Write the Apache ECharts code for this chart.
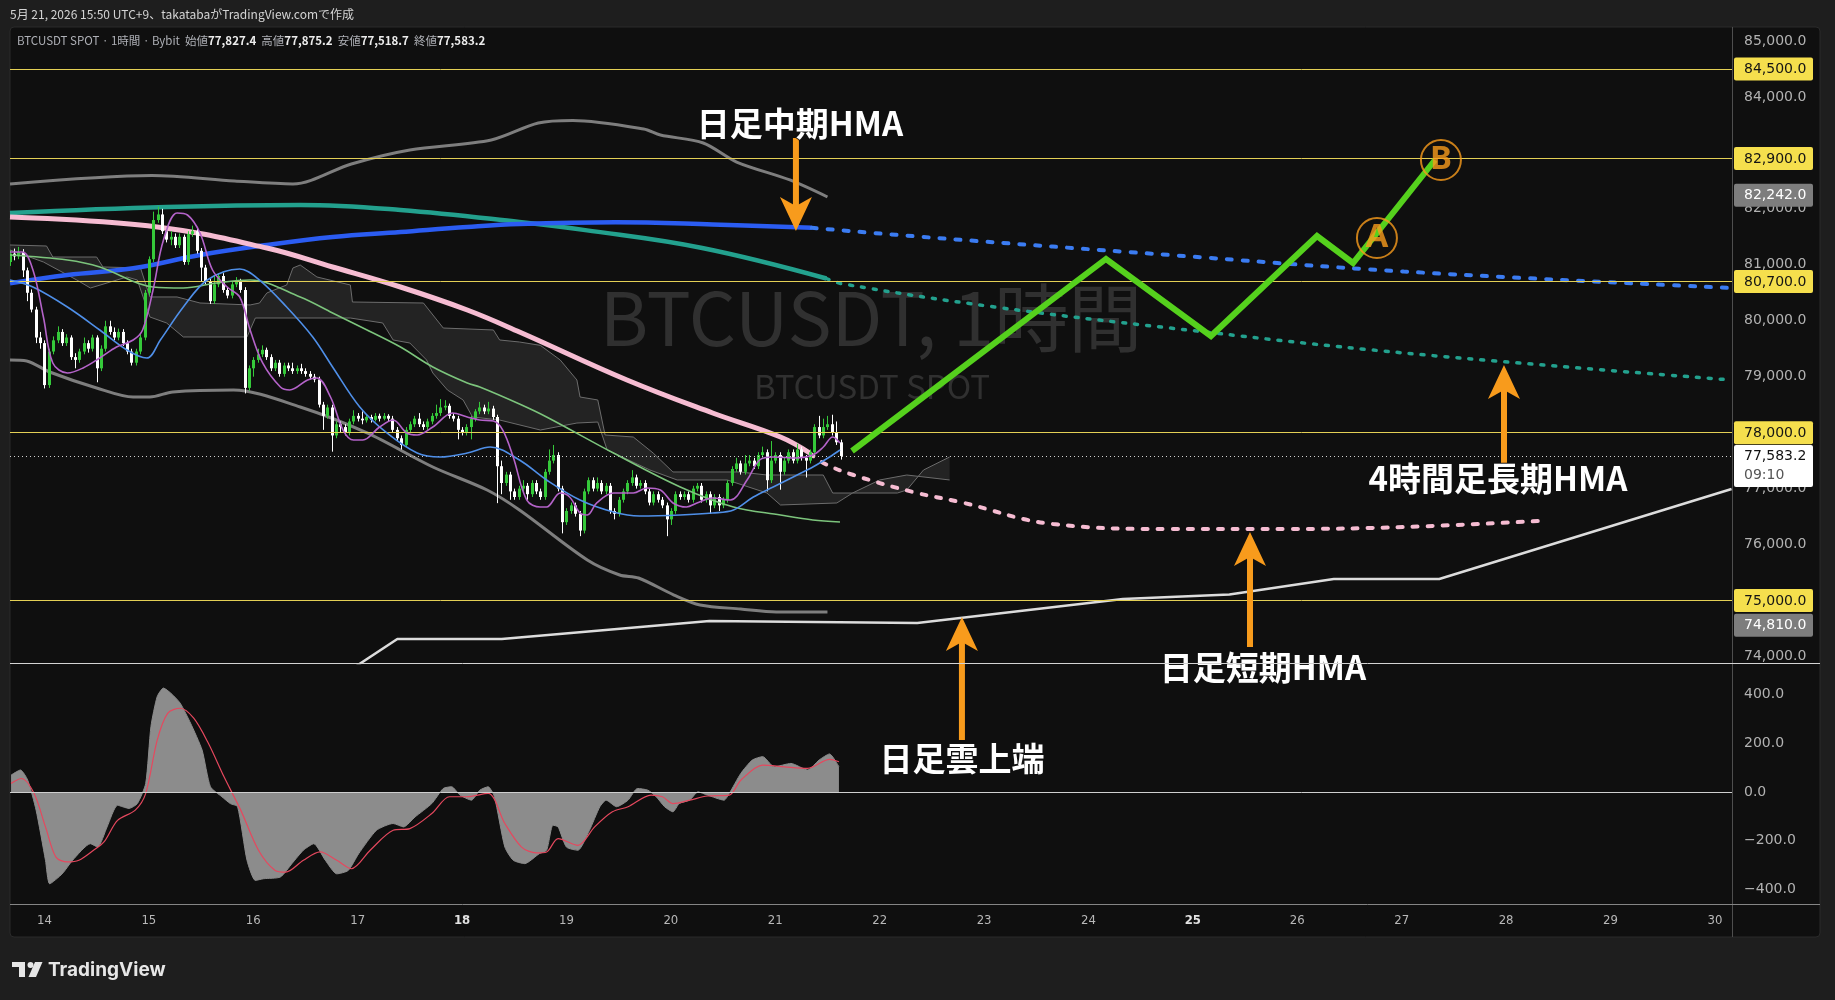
<!DOCTYPE html>
<html><head><meta charset="utf-8">
<style>html,body{margin:0;padding:0;background:#1e1e1e;overflow:hidden}#c{width:1835px;height:1000px}</style>
<script src="https://cdn.jsdelivr.net/npm/echarts@6/dist/echarts.min.js"></script>
</head><body><div id="c"></div>
<script>
// ================= DATA =================
const dayTicks = [14,15,16,17,18,19,20,21,22,23,24,25,26,27,28,29,30];
const boldDays = [18,25];
const priceTicks = [74000,75000,76000,77000,78000,79000,80000,81000,82000,83000,84000,85000];
const oscTicks = [-400,-200,0,200,400];
const candleStart = 13 + 16/24; // first hourly candle: 13th 16:00
// [open, close, low, high] hourly
const candles = [
[81050,81200,80980,81260],[81200,81150,81080,81290],[81150,81230,81100,81320],[81230,80900,80780,81280],[80900,80500,80350,80950],
[80500,80200,80150,80560],[80200,79700,79600,80250],[79700,79600,79500,79800],[79600,78850,78790,79650],[78850,79450,78800,79500],
[79450,79650,79400,79720],[79650,79800,79600,79900],[79800,79600,79550,79850],[79600,79700,79550,79760],[79700,79350,79300,79740],
[79350,79300,79150,79420],[79300,79450,79250,79500],[79450,79600,79400,79700],[79600,79500,79430,79650],[79500,79700,79450,79750],
[79700,79150,78900,79740],[79150,79500,79100,79560],[79500,79900,79450,80000],[79900,79800,79750,80000],[79800,79700,79650,79880],
[79700,79800,79650,79860],[79800,79600,79550,79850],[79600,79450,79400,79650],[79450,79250,79200,79500],[79250,79450,79200,79500],
[79450,79700,79400,79760],[79700,80500,79650,80550],[80500,81100,80450,81150],[81100,81800,81050,81950],[81800,81900,81750,82040],
[81900,81600,81550,82000],[81600,81450,81400,81650],[81450,81500,81350,81600],[81500,81350,81300,81560],[81350,81500,81300,81560],
[81500,81050,81000,81540],[81050,81550,81000,81600],[81550,81600,81500,81700],[81600,81250,81200,81650],[81250,80950,80700,81300],
[80950,80700,80650,81000],[80700,80350,80300,80750],[80350,80650,80300,80800],[80650,80800,80600,80850],[80800,80550,80500,80850],
[80550,80450,80400,80600],[80450,80650,80400,80700],[80650,80700,80600,80780],[80700,80550,80500,80750],[80550,78800,78700,80600],
[78800,79150,78750,79200],[79150,79300,79000,79350],[79300,79400,79250,79500],[79400,79480,79350,79560],[79480,79350,79300,79520],
[79350,79150,79100,79400],[79150,79250,79100,79300],[79250,79050,79000,79300],[79050,79200,79000,79250],[79200,79150,79100,79250],
[79150,79100,79050,79250],[79100,79150,79050,79200],[79150,79100,79050,79230],[79100,79050,79000,79150],[79050,79000,78950,79100],
[79000,78950,78900,79050],[78950,78500,78450,79000],[78500,78300,78050,78550],[78300,78450,78250,78500],[78450,77950,77660,78500],
[77950,78150,77900,78200],[78150,78100,78000,78200],[78100,78000,77950,78150],[78000,78200,77950,78250],[78200,78300,78150,78400],
[78300,78250,78200,78350],[78250,78220,78150,78380],[78220,78280,78180,78330],[78280,78230,78180,78320],[78230,78300,78200,78350],
[78300,78250,78200,78340],[78250,78300,78220,78350],[78300,78250,78200,78330],[78250,78050,78000,78300],[78050,77900,77850,78100],
[77900,77780,77700,77950],[77780,78050,77750,78100],[78050,78150,78000,78200],[78150,78250,78100,78300],[78250,78150,78100,78350],
[78150,78100,78050,78200],[78100,78200,78050,78250],[78200,78300,78150,78350],[78300,78350,78250,78500],[78350,78450,78300,78600],
[78450,78480,78400,78580],[78480,78300,78250,78520],[78300,78250,78200,78350],[78250,78050,77880,78300],[78050,78000,77950,78100],
[78000,78100,77950,78150],[78100,78250,77880,78300],[78250,78380,78200,78420],[78380,78450,78330,78550],[78450,78380,78330,78500],
[78380,78430,78330,78550],[78430,78280,78230,78480],[78280,77400,76740,78320],[77400,77100,76900,77500],[77100,77250,77050,77300],
[77250,76950,76800,77300],[76950,76850,76800,77000],[76850,77000,76800,77050],[77000,77050,76950,77150],[77050,76900,76800,77100],
[76900,77100,76850,77150],[77100,76950,76900,77150],[76950,76850,76800,77000],[76850,77300,76800,77350],[77300,77500,77250,77700],
[77500,77600,77450,77780],[77600,77000,76950,77650],[77000,76400,76200,77050],[76400,76600,76350,76650],[76600,76700,76550,76750],
[76700,76550,76500,76750],[76550,76250,76150,76600],[76250,76950,76200,77000],[76950,77150,76900,77200],[77150,77000,76950,77200],
[77000,77100,76950,77200],[77100,76950,76900,77150],[76950,77050,76900,77100],[77050,76600,76550,77100],[76600,76550,76450,76650],
[76550,76800,76500,76850],[76800,76950,76750,77000],[76950,77100,76900,77150],[77100,77200,77050,77330],[77200,77050,77000,77250],
[77050,77100,77000,77150],[77100,76950,76900,77150],[76950,76750,76700,77000],[76750,76900,76700,76950],[76900,76800,76750,76950],
[76800,76700,76650,76850],[76700,76450,76150,76750],[76450,76600,76350,76650],[76600,76900,76550,76950],[76900,76850,76800,76950],
[76850,76900,76800,76950],[76900,76800,76750,76950],[76800,77000,76750,77050],[77000,77050,76950,77100],[77050,76800,76750,77100],
[76800,76900,76750,76950],[76900,76700,76550,76950],[76700,76850,76650,76900],[76850,76700,76600,76900],[76700,76800,76650,76850],
[76800,77100,76750,77150],[77100,77350,77050,77400],[77350,77450,77300,77550],[77450,77300,77250,77500],[77300,77450,77250,77600],
[77450,77500,77400,77600],[77500,77400,77350,77550],[77400,77600,77350,77650],[77600,77650,77550,77750],[77650,77150,76950,77700],
[77150,77500,77100,77850],[77500,77600,77450,77650],[77600,77300,76980,77650],[77300,77500,77250,77550],[77500,77650,77450,77700],
[77650,77500,77450,77700],[77500,77700,77450,77800],[77700,77550,77500,77750],[77550,77500,77200,77600],[77500,77650,77450,77700],
[77650,78100,77600,78150],[78100,77950,77900,78300],[77950,78100,77900,78250],[78100,78150,78050,78300],[78150,78000,77950,78320],
[78000,77827.4,77780,78200],[77827.4,77583.2,77518.7,77875.2]
];
// [day, price]
const pinkHMA = [[13.67,81854],[15.08,81676],[16.13,81300],[16.76,80961],[17.41,80603],[18.05,80192],[18.55,79799],[19.58,78941],[20.40,78351],[21.05,77922],[21.33,77636]];
const pinkHMAProj = [[21.33,77636],[21.46,77458],[21.75,77243],[22.32,76939],[22.77,76760],[23.66,76367],[24.78,76278],[25.90,76278],[27.02,76314],[28.32,76421]];
const blueHMA = [[13.67,80669],[14.22,80818],[14.85,80937],[15.49,81175],[16.13,81354],[16.76,81497],[17.41,81586],[18.05,81676],[18.55,81729],[19.47,81760],[20.40,81720],[21.35,81660]];
const blueHMAProj = [[21.35,81660],[22.54,81480],[24.78,81175],[27.02,80880],[30.16,80585]];
const tealHMA = [[13.67,81926],[15.17,82033],[16.45,82069],[17.41,81979],[18.55,81765],[19.18,81620],[20.30,81300],[21.49,80755]];
const tealHMAProj = [[21.49,80755],[21.65,80657],[23.10,80246],[24.78,79870],[27.02,79424],[30.16,78941]];
const bbUpper = [[13.67,82444],[15.03,82596],[15.82,82498],[16.38,82444],[16.94,82802],[17.50,83052],[18.28,83231],[18.73,83534],[19.06,83579],[19.74,83427],[19.90,83320],[20.31,83177],[20.63,82837],[21.14,82516],[21.50,82212]];
const bbLower = [[13.67,79298],[13.83,79281],[14.05,79084],[14.50,78798],[14.85,78637],[15.01,78637],[15.23,78727],[15.81,78762],[16.45,78458],[17.09,77994],[17.72,77386],[18.24,76975],[18.55,76618],[19.20,75724],[19.51,75456],[19.69,75402],[20.03,75098],[20.28,74920],[20.67,74848],[21.01,74795],[21.50,74795]];
const purpleMA = [[13.67,81229],[13.79,81229],[13.89,80907],[13.99,80067],[14.08,79245],[14.22,79066],[14.37,79156],[14.53,79334],[14.69,79531],[14.85,79656],[14.94,79835],[15.04,80550],[15.14,81443],[15.27,81926],[15.37,81890],[15.49,81568],[15.61,80907],[15.75,80603],[15.87,80425],[15.97,79835],[16.09,79245],[16.26,78816],[16.35,78762],[16.52,78941],[16.61,78977],[16.74,78637],[16.86,78047],[16.96,77868],[17.05,77868],[17.21,78101],[17.34,78226],[17.47,77994],[17.57,77958],[17.72,78101],[17.91,78351],[18.05,78280],[18.17,78226],[18.30,78208],[18.39,78047],[18.49,77565],[18.62,76796],[18.75,76671],[18.81,76671],[18.94,76921],[19.03,76850],[19.13,76564],[19.20,76528],[19.29,76743],[19.45,76921],[19.64,76921],[19.77,77011],[19.90,76975],[20.02,76743],[20.15,76671],[20.25,76743],[20.40,76832],[20.57,76796],[20.73,77154],[20.85,77511],[20.98,77565],[21.21,77547],[21.36,77601],[21.46,77743],[21.55,77922],[21.62,77815]];
const lightBlueMA = [[13.67,80728],[13.89,80603],[14.22,80246],[14.53,79835],[14.79,79477],[14.98,79334],[15.11,79656],[15.33,80246],[15.56,80728],[15.87,80925],[16.06,80728],[16.32,80246],[16.57,79710],[16.76,79174],[17.02,78459],[17.28,77994],[17.57,77636],[17.79,77565],[18.05,77636],[18.27,77744],[18.55,77511],[18.81,77154],[19.13,76796],[19.45,76582],[19.70,76510],[20.09,76528],[20.40,76564],[20.60,76618],[20.79,76850],[20.98,77029],[21.21,77243],[21.36,77386],[21.52,77565],[21.62,77690]];
const greenMA = [[13.67,81175],[14.22,81086],[14.53,80961],[15.04,80603],[15.33,80585],[15.65,80675],[15.97,80728],[16.45,80425],[16.76,80139],[17.09,79835],[17.41,79531],[17.72,79174],[18.05,78887],[18.17,78816],[18.55,78512],[18.81,78280],[19.45,77636],[20.09,77029],[20.60,76671],[21.05,76528],[21.36,76439],[21.62,76403]];
const cloudSpanA = [[13.67,81354],[14.02,81336],[14.08,81139],[14.50,81139],[14.56,80961],[14.92,80943],[15.01,80425],[15.27,80425],[15.49,80317],[15.97,80282],[16.06,80317],[16.13,80496],[16.32,80639],[16.38,80943],[16.45,80996],[16.61,80782],[16.93,80639],[16.95,80335],[17.63,80317],[17.82,79870],[18.30,79835],[18.36,79656],[18.55,79620],[18.75,79560],[18.94,79299],[19.10,78941],[19.13,78637],[19.30,78584],[19.37,77958],[19.64,77922],[19.83,77636],[20.02,77297],[20.66,77297],[20.92,77243],[21.46,77243],[21.55,76921],[22.17,76921],[22.26,76975],[22.42,77332],[22.67,77565]];
const cloudSpanB = [[13.67,81265],[13.99,81050],[14.31,80728],[14.44,80585],[14.79,80782],[14.89,80728],[15.01,80067],[15.17,79960],[15.33,79710],[15.94,79710],[16.02,80049],[16.93,80049],[17.24,79960],[17.34,79656],[17.50,79602],[17.66,79299],[17.72,79066],[17.86,78762],[18.01,78584],[18.10,78280],[18.36,78226],[18.75,78047],[19.10,78172],[19.30,78190],[19.39,77690],[19.80,77332],[20.06,77154],[20.54,77154],[20.92,76921],[21.05,76707],[21.59,76743],[21.74,76921],[22.00,77154],[22.26,77243],[22.67,77154]];
const dailyCloudTop = [[16.93,73758],[17.38,74312],[18.38,74312],[20.37,74634],[22.36,74598],[24.33,75027],[25.35,75107],[26.35,75384],[27.36,75384],[30.16,76993]];
const oscValue = [[13.68,70],[13.77,91],[13.84,49],[13.92,-74],[14.01,-280],[14.05,-377],[14.17,-336],[14.27,-280],[14.44,-212],[14.51,-226],[14.60,-143],[14.70,-54],[14.81,-67],[14.89,-47],[14.97,36],[15.02,270],[15.08,393],[15.14,428],[15.21,407],[15.30,366],[15.40,283],[15.51,173],[15.59,22],[15.70,-19],[15.78,-47],[15.85,-60],[15.94,-280],[16.02,-363],[16.10,-356],[16.26,-349],[16.37,-294],[16.48,-239],[16.58,-212],[16.69,-280],[16.80,-336],[16.91,-322],[17.01,-253],[17.18,-157],[17.34,-129],[17.44,-143],[17.55,-102],[17.71,-47],[17.82,15],[17.90,22],[17.98,-12],[18.09,-33],[18.17,8],[18.25,22],[18.31,-19],[18.41,-226],[18.49,-280],[18.60,-294],[18.74,-253],[18.81,-239],[18.87,-136],[18.92,-143],[19.00,-226],[19.11,-239],[19.22,-157],[19.32,-60],[19.38,-33],[19.48,-60],[19.59,-33],[19.68,15],[19.78,8],[19.86,-19],[19.94,-60],[20.02,-81],[20.08,-47],[20.18,-33],[20.26,1],[20.35,-12],[20.51,-33],[20.56,-5],[20.67,77],[20.78,132],[20.88,146],[20.99,104],[21.15,118],[21.31,91],[21.42,132],[21.52,157],[21.61,104]];
const oscSignal = [[13.68,36],[13.78,56],[13.90,-5],[14.01,-143],[14.11,-267],[14.22,-287],[14.33,-280],[14.47,-239],[14.57,-205],[14.70,-116],[14.87,-74],[14.97,-5],[15.08,214],[15.18,324],[15.30,345],[15.43,304],[15.57,201],[15.72,63],[15.88,-74],[16.05,-239],[16.21,-322],[16.31,-329],[16.48,-280],[16.64,-246],[16.80,-280],[16.94,-315],[17.12,-239],[17.34,-157],[17.50,-150],[17.71,-88],[17.88,-19],[18.04,-19],[18.25,-5],[18.41,-129],[18.57,-226],[18.71,-250],[18.81,-246],[18.92,-191],[19.11,-219],[19.27,-143],[19.44,-81],[19.59,-60],[19.81,-12],[19.92,-19],[20.02,-47],[20.18,-33],[20.35,-16],[20.56,-12],[20.67,49],[20.88,111],[21.09,104],[21.31,98],[21.52,135],[21.61,125]];
const levelLines = [84500, 82900, 80700, 78000, 75000];
const lastPrice = 77583.2;
const countdown = '09:10';
const bbUpperLast = 82242.0;
const bbLowerLast = 74810.0;
const scenario = [[21.735,77672],[24.168,81104],[25.173,79727],[26.189,81515],[26.534,81032],[27.319,82873]];
const scenarioMarks = [[26.763,81479,'A'],[27.376,82873,'B']];
// [day, tail price, tip price]
const arrows = [[21.198,83266,81604],[27.980,77458,79209],[25.547,74169,76224],[22.788,72507,74705]];
const notes = [[21.237,83534,'日足中期HMA'],[27.922,77190,'4時間足長期HMA'],[25.671,73811,'日足短期HMA'],[22.788,72185,'日足雲上端']];
const headerText = '5月 21, 2026 15:50 UTC+9、takatabaがTradingView.comで作成';
const symbolText = 'BTCUSDT SPOT · 1時間 · Bybit';

// ================= CHART =================
const ORANGE = '#f89b1c', YEL = '#f5df4d', UP = '#35c93a', DOWN = '#ffffff';
const fmtP = v => v.toLocaleString('en-US',{minimumFractionDigits:1,maximumFractionDigits:1});
const X_MIN = 13.67, X_MAX = 30.164;
const chart = echarts.init(document.getElementById('c'));

function lineS(name, data, color, width, opts){
  return Object.assign({name, type:'line', xAxisIndex:0, yAxisIndex:0, data, showSymbol:false, symbol:'none',
    lineStyle:{color, width}, silent:true, animation:false, z:3}, opts||{});
}

const option = {
  backgroundColor:'#1e1e1e',
  animation:false,
  textStyle:{fontFamily:'DejaVu Sans'},
  grid:[{left:10, top:27, width:1722, height:636}, {left:10, top:663, width:1722, height:241}],
  xAxis:[
    {gridIndex:0, type:'value', min:X_MIN, max:X_MAX, show:false},
    {gridIndex:1, type:'value', min:X_MIN, max:X_MAX, axisLine:{show:false}, axisTick:{show:false}, splitLine:{show:false},
      axisLabel:{customValues:dayTicks, margin:10, color:'#b8b8b8', fontSize:13, fontFamily:'DejaVu Sans Condensed',
        formatter: v => boldDays.indexOf(v)>=0 ? '{b|'+v+'}' : String(v),
        rich:{b:{fontWeight:'bold', color:'#e2e2e2', fontSize:13, fontFamily:'DejaVu Sans Condensed'}}}}
  ],
  yAxis:[
    {gridIndex:0, type:'value', position:'right', min:73883, max:85250, axisLine:{show:false}, axisTick:{show:false}, splitLine:{show:false},
      axisLabel:{customValues:priceTicks, formatter:fmtP, margin:12, color:'#b2b2b2', fontSize:14, fontFamily:'DejaVu Sans'}},
    {gridIndex:1, type:'value', position:'right', min:-460, max:531, axisLine:{show:false}, axisTick:{show:false}, splitLine:{show:false},
      axisLabel:{customValues:oscTicks, formatter: v => (v<0?'\u2212':'')+Math.abs(v).toFixed(1), margin:12, color:'#b2b2b2', fontSize:14, fontFamily:'DejaVu Sans'}}
  ],
  series:[
    {type:'custom', name:'cloudFill', xAxisIndex:0, yAxisIndex:0, z:1, silent:true, clip:true,
      data:[cloudSpanA[0]],
      renderItem:(p, api) => {
        const pts = cloudSpanA.map(d=>api.coord(d)).concat(cloudSpanB.slice().reverse().map(d=>api.coord(d)));
        return {type:'polygon', shape:{points:pts}, style:{fill:'rgba(255,255,255,0.085)'}};
      }},
    lineS('spanA', cloudSpanA, '#6c6c6c', 1, {z:2}),
    lineS('spanB', cloudSpanB, '#6c6c6c', 1, {z:2}),
    lineS('bbUpper', bbUpper, '#7e7e7e', 3, {smooth:0.3}),
    lineS('bbLower', bbLower, '#7e7e7e', 3, {smooth:0.3}),
    lineS('dailyCloudTop', dailyCloudTop, '#dcdcdc', 2.5, {clip:true}),
    lineS('tealHMA', tealHMA, '#23a18e', 4.5, {smooth:0.4}),
    lineS('tealHMAProj', tealHMAProj, '#23a18e', 3, {smooth:0.4, lineStyle:{color:'#23a18e', width:3.5, type:[3,9], cap:'round'}}),
    lineS('blueHMA', blueHMA, '#2b5cf2', 4.5, {smooth:0.4}),
    lineS('blueHMAProj', blueHMAProj, '#3a7bf0', 4, {smooth:0.4, lineStyle:{color:'#3b7cf2', width:4, type:[5,11], cap:'round'}}),
    lineS('pinkHMA', pinkHMA, '#f6bcd2', 5, {smooth:0.4}),
    lineS('pinkHMAProj', pinkHMAProj, '#f6bcd2', 4, {smooth:0.4, lineStyle:{color:'#f6bcd2', width:4, type:[5,10], cap:'round'}}),
    {type:'custom', name:'candles', xAxisIndex:0, yAxisIndex:0, z:4, silent:true, clip:true,
      dimensions:['t','o','c','l','h'], encode:{x:0, y:[1,2,3,4]},
      data: candles.map((k,i)=>[candleStart + i/24, k[0], k[1], k[2], k[3]]),
      renderItem:(p, api) => {
        const d=api.value(0), o=api.value(1), c=api.value(2), l=api.value(3), h=api.value(4);
        const pO=api.coord([d,o]), pC=api.coord([d,c]), pL=api.coord([d,l]), pH=api.coord([d,h]);
        const col = c>=o ? UP : DOWN;
        const x = Math.round(pO[0]) + 0.5;
        const top = Math.min(pO[1],pC[1]), ht = Math.max(1, Math.abs(pO[1]-pC[1]));
        return {type:'group', children:[
          {type:'line', shape:{x1:x,y1:pH[1],x2:x,y2:pL[1]}, style:{stroke:col, lineWidth:1}},
          {type:'rect', shape:{x:x-1.5, y:top, width:3, height:ht}, style:{fill:col}}
        ]};
      }},
    lineS('greenMA', greenMA, '#7cc47c', 1.6, {smooth:0.35, z:5}),
    lineS('lightBlueMA', lightBlueMA, '#4f8fe8', 1.6, {smooth:0.35, z:5}),
    lineS('purpleMA', purpleMA, '#b463c9', 1.6, {smooth:0.35, z:5}),
    lineS('levels', [[candleStart, lastPrice]], 'rgba(0,0,0,0)', 0, {z:2,
      markLine:{symbol:['none','none'], silent:true, animation:false, label:{show:false},
        data: levelLines.map(v=>({yAxis:v, lineStyle:{color:'#e3cf55', width:1, type:'solid'}}))
          .concat([{yAxis:lastPrice, lineStyle:{color:'#d0d0d0', width:1, type:[1,3]}}])}}),
    lineS('scenario', scenario, '#55d11d', 6, {z:8, lineStyle:{color:'#55d11d', width:6, join:'miter'}}),
    {type:'scatter', name:'marks', xAxisIndex:0, yAxisIndex:0, z:9, silent:true, symbol:'circle', symbolSize:40,
      data: scenarioMarks.map(m=>[m[0], m[1]]),
      itemStyle:{color:'rgba(0,0,0,0)', borderColor:ORANGE, borderWidth:2},
      label:{show:true, position:'inside', formatter: p => scenarioMarks[p.dataIndex][2], color:ORANGE, fontSize:33, fontWeight:'bold', fontFamily:'Noto Sans'}},
    {type:'custom', name:'arrows', xAxisIndex:0, yAxisIndex:0, z:10, silent:true, clip:false,
      data: arrows.map(a=>[a[0], a[1]]),
      renderItem:(p, api) => {
        const a = arrows[p.dataIndex];
        const p0 = api.coord([a[0], a[1]]), p1 = api.coord([a[0], a[2]]);
        const s = p1[1] > p0[1] ? 1 : -1, x = p1[0], yt = p1[1];
        return {type:'group', children:[
          {type:'line', shape:{x1:x, y1:p0[1], x2:x, y2:yt - s*24}, style:{stroke:ORANGE, lineWidth:6}},
          {type:'polygon', shape:{points:[[x,yt],[x-16,yt-s*34],[x,yt-s*25],[x+16,yt-s*34]]}, style:{fill:ORANGE}}
        ]};
      }},
    {type:'custom', name:'notes', xAxisIndex:0, yAxisIndex:0, z:11, silent:true, clip:false,
      data: notes.map(n=>[n[0], n[1]]),
      renderItem:(p, api) => {
        const n = notes[p.dataIndex];
        const q = api.coord([n[0], n[1]]);
        return {type:'text', x:q[0], y:q[1], style:{text:n[2], fill:'#ffffff', font:'bold 33px "Noto Sans CJK JP"', align:'center', verticalAlign:'middle', stroke:'#111', lineWidth:2}};
      }},
    {type:'line', name:'osc', xAxisIndex:1, yAxisIndex:1, data:oscValue, showSymbol:false, symbol:'none', smooth:0.2, silent:true, z:2,
      lineStyle:{color:'#8c8c8c', width:1}, areaStyle:{color:'#8c8c8c', opacity:1},
      markLine:{symbol:['none','none'], silent:true, label:{show:false}, data:[{yAxis:0, lineStyle:{color:'#cfcfcf', width:1, type:'solid'}}]}},
    {type:'line', name:'oscSignal', xAxisIndex:1, yAxisIndex:1, data:oscSignal, showSymbol:false, symbol:'none', smooth:0.3, silent:true, z:3,
      lineStyle:{color:'#e5485e', width:1.2}}
  ]
};
chart.setOption(option);

// ---- layout graphics (frame, texts, axis tags) ----
const last = candles[candles.length-1];
const G = [];
G.push({type:'rect', shape:{x:10, y:27, width:1810, height:910, r:4}, style:{fill:'#0f0f0f', stroke:'#2a2a2a'}, z:-10, silent:true});
G.push({type:'text', x:871, y:318, style:{text:'BTCUSDT, 1時間', fill:'#303030', font:'74px "Noto Sans CJK JP"', align:'center', verticalAlign:'middle'}, z:-5, silent:true});
G.push({type:'text', x:872, y:386, style:{text:'BTCUSDT SPOT', fill:'#303030', font:'33px "Noto Sans CJK JP"', align:'center', verticalAlign:'middle'}, z:-5, silent:true});
G.push({type:'line', shape:{x1:1732.5, y1:27, x2:1732.5, y2:937}, style:{stroke:'#4e4e4e', lineWidth:1}, z:20, silent:true});
G.push({type:'line', shape:{x1:10, y1:663.5, x2:1820, y2:663.5}, style:{stroke:'#d4d4d4', lineWidth:1}, z:20, silent:true});
G.push({type:'line', shape:{x1:10, y1:904.5, x2:1820, y2:904.5}, style:{stroke:'#858585', lineWidth:1}, z:20, silent:true});
G.push({type:'text', x:10, y:14, style:{text:headerText, fill:'#d4d4d4', font:'12px "Noto Sans CJK JP"', verticalAlign:'middle'}, z:30, silent:true});
const gray = {fill:'#aeb0b6', fontSize:11.5, fontFamily:'Noto Sans CJK JP'};
const val = {fill:'#ececec', fontSize:11.5, fontFamily:'Noto Sans CJK JP', fontWeight:'bold'};
G.push({type:'text', x:17, y:41, style:{
  text:'{g|'+symbolText+'  始値}{v|'+fmtP(last[0])+'}{g|  高値}{v|'+fmtP(last[3])+'}{g|  安値}{v|'+fmtP(last[2])+'}{g|  終値}{v|'+fmtP(last[1])+'}',
  rich:{g:gray, v:val}, verticalAlign:'middle'}, z:30, silent:true});
// TradingView logo
G.push({type:'rect', shape:{x:12, y:962, width:13, height:5}, style:{fill:'#e6e6e6'}, z:30, silent:true});
G.push({type:'rect', shape:{x:19, y:962, width:6, height:15}, style:{fill:'#e6e6e6'}, z:30, silent:true});
G.push({type:'circle', shape:{cx:30.5, cy:965, r:3}, style:{fill:'#e6e6e6'}, z:30, silent:true});
G.push({type:'polygon', shape:{points:[[35,962],[42.5,962],[36,977],[28.5,977]]}, style:{fill:'#e6e6e6'}, z:30, silent:true});
G.push({type:'text', x:48, y:970, style:{text:'TradingView', fill:'#e6e6e6', font:'bold 19px Inter', verticalAlign:'middle'}, z:30, silent:true});
// price tags on the right axis
const tags = levelLines.map(v=>({v, bg:YEL, fg:'#141414'}))
  .concat([{v:bbUpperLast, bg:'#7d7d7d', fg:'#ffffff'}, {v:bbLowerLast, bg:'#7d7d7d', fg:'#ffffff', dy:14}]);
tags.forEach(t=>{
  const y = chart.convertToPixel({yAxisIndex:0}, t.v) + (t.dy||0);
  G.push({type:'rect', shape:{x:1734, y:y-11.5, width:79, height:23, r:2}, style:{fill:t.bg}, z:40, silent:true});
  G.push({type:'text', x:1744, y:y+0.5, style:{text:fmtP(t.v), fill:t.fg, font:'14px "DejaVu Sans"', verticalAlign:'middle'}, z:41, silent:true});
});
{
  const y = chart.convertToPixel({yAxisIndex:0}, lastPrice);
  G.push({type:'rect', shape:{x:1734, y:y-11, width:79, height:42, r:2}, style:{fill:'#ffffff'}, z:40, silent:true});
  G.push({type:'text', x:1744, y:y+0.5, style:{text:fmtP(lastPrice), fill:'#111111', font:'14px "DejaVu Sans"', verticalAlign:'middle'}, z:41, silent:true});
  G.push({type:'text', x:1744, y:y+19, style:{text:countdown, fill:'#555555', font:'14px "DejaVu Sans"', verticalAlign:'middle'}, z:41, silent:true});
}
chart.setOption({graphic: G});
</script>
</body></html>
